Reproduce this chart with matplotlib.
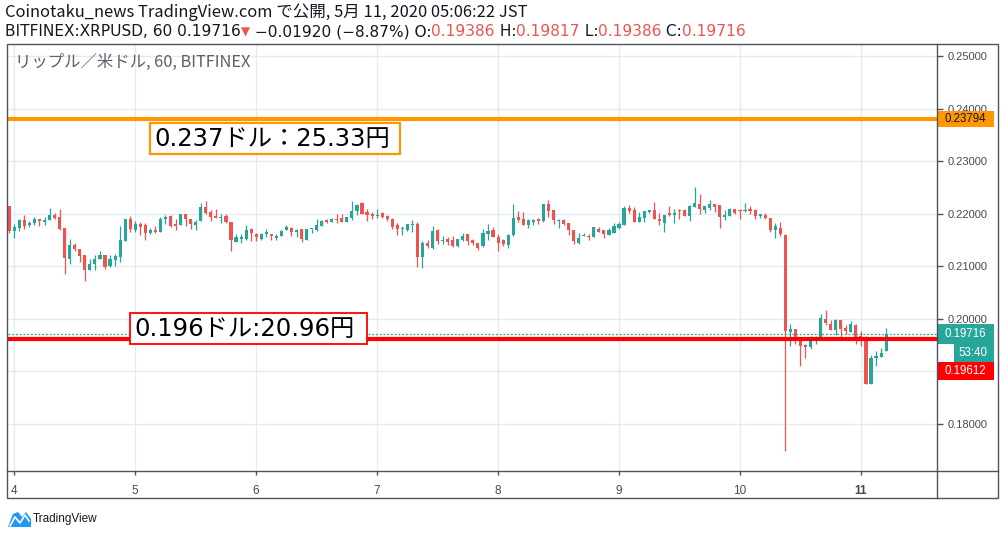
import numpy as np
import matplotlib
matplotlib.use("Agg")
from matplotlib import pyplot as plt
from matplotlib.patches import Rectangle, Polygon

# hourly candles (JST), 3 May 23:00 .. 11 May 05:00
opens = [0.22139, 0.21671, 0.21734, 0.21873, 0.21778, 0.21823, 0.21892, 0.21842, 0.21880, 0.21968,
         0.21930, 0.21722, 0.21146, 0.21399, 0.21335, 0.21209, 0.20930, 0.21051, 0.21146, 0.21222,
         0.21000, 0.21114, 0.21177, 0.21481, 0.21905, 0.21697, 0.21810, 0.21778, 0.21633, 0.21684,
         0.21652, 0.21892, 0.21956, 0.21797, 0.21778, 0.21987, 0.21905, 0.21778, 0.21854, 0.22120,
         0.22032, 0.21949, 0.21918, 0.21956, 0.21842, 0.21462, 0.21513, 0.21525, 0.21703, 0.21608,
         0.21513, 0.21608, 0.21620, 0.21538, 0.21576, 0.21690, 0.21722, 0.21652, 0.21715, 0.21506,
         0.21703, 0.21690, 0.21766, 0.21886, 0.21842, 0.21892, 0.21918, 0.21842, 0.21918, 0.22044,
         0.22196, 0.22032, 0.21987, 0.21956, 0.22013, 0.21956, 0.21905, 0.21778, 0.21715, 0.21684,
         0.21791, 0.21797, 0.21177, 0.21443, 0.21354, 0.21684, 0.21487, 0.21513, 0.21494, 0.21386,
         0.21494, 0.21608, 0.21494, 0.21443, 0.21380, 0.21620, 0.21696, 0.21557, 0.21494, 0.21411,
         0.21601, 0.21930, 0.21892, 0.21778, 0.21842, 0.21892, 0.21854, 0.22190, 0.22063, 0.21861,
         0.21873, 0.21823, 0.21684, 0.21449, 0.21570, 0.21576, 0.21557, 0.21715, 0.21684, 0.21600,
         0.21640, 0.21728, 0.21778, 0.22108, 0.22063, 0.21835, 0.21924, 0.22025, 0.22076, 0.21905,
         0.21829, 0.22006, 0.21968, 0.22063, 0.22076, 0.21949, 0.22127, 0.22190, 0.22076, 0.22108,
         0.22190, 0.22158, 0.21937, 0.21956, 0.22082, 0.22063, 0.22050, 0.22095, 0.22063, 0.21956,
         0.21981, 0.21918, 0.21684, 0.21728, 0.21600, 0.19749, 0.19800, 0.19590, 0.19495, 0.19463,
         0.19571, 0.19641, 0.20003, 0.19908, 0.19781, 0.19971, 0.19825, 0.19749, 0.19876, 0.19667,
         0.19641, 0.18752, 0.19254, 0.19273, 0.19386]
highs = [0.22140, 0.21810, 0.21905, 0.21968, 0.21854, 0.21930, 0.21892, 0.21930, 0.22114, 0.22013,
         0.22082, 0.21722, 0.21513, 0.21443, 0.21335, 0.21209, 0.21146, 0.21222, 0.21285, 0.21222,
         0.21222, 0.21240, 0.21760, 0.21905, 0.21950, 0.21860, 0.21842, 0.21823, 0.21734, 0.21766,
         0.21930, 0.21981, 0.21981, 0.21905, 0.21987, 0.21987, 0.21905, 0.21873, 0.22203, 0.22234,
         0.22063, 0.22082, 0.21987, 0.21987, 0.21842, 0.21608, 0.21608, 0.21778, 0.21728, 0.21633,
         0.21639, 0.21715, 0.21620, 0.21608, 0.21684, 0.21778, 0.21740, 0.21715, 0.21715, 0.21709,
         0.21712, 0.21900, 0.21873, 0.21905, 0.21918, 0.21987, 0.21987, 0.21930, 0.22234, 0.22190,
         0.22222, 0.22082, 0.22032, 0.22082, 0.22032, 0.21981, 0.21918, 0.21823, 0.21766, 0.21810,
         0.21880, 0.21842, 0.21475, 0.21494, 0.21760, 0.21703, 0.21570, 0.21563, 0.21570, 0.21513,
         0.21639, 0.21608, 0.21513, 0.21443, 0.21715, 0.21810, 0.21747, 0.21608, 0.21525, 0.21620,
         0.22177, 0.22050, 0.22025, 0.21892, 0.21892, 0.21924, 0.22190, 0.22253, 0.22063, 0.21892,
         0.21892, 0.21823, 0.21696, 0.21633, 0.21633, 0.21620, 0.21747, 0.21747, 0.21696, 0.21728,
         0.21830, 0.21842, 0.22139, 0.22171, 0.22127, 0.22025, 0.22044, 0.22076, 0.22215, 0.22013,
         0.21981, 0.22139, 0.22095, 0.22082, 0.22095, 0.22171, 0.22506, 0.22367, 0.22139, 0.22266,
         0.22190, 0.22158, 0.22063, 0.22108, 0.22095, 0.22095, 0.22209, 0.22139, 0.22095, 0.21987,
         0.22019, 0.21918, 0.21823, 0.21842, 0.21620, 0.19895, 0.19800, 0.19590, 0.19527, 0.19667,
         0.19667, 0.20086, 0.20162, 0.19984, 0.19990, 0.19971, 0.19889, 0.19952, 0.19908, 0.19762,
         0.19667, 0.19305, 0.19387, 0.19444, 0.19817]
lows = [0.21633, 0.21538, 0.21671, 0.21715, 0.21747, 0.21778, 0.21766, 0.21791, 0.21880, 0.21905,
        0.21690, 0.20848, 0.21038, 0.21297, 0.21082, 0.20715, 0.20930, 0.20930, 0.21146, 0.20956,
        0.20987, 0.21000, 0.21082, 0.21481, 0.21652, 0.21652, 0.21589, 0.21506, 0.21620, 0.21633,
        0.21652, 0.21804, 0.21740, 0.21684, 0.21778, 0.21766, 0.21703, 0.21684, 0.21854, 0.22000,
        0.21854, 0.21918, 0.21829, 0.21829, 0.21285, 0.21462, 0.21443, 0.21506, 0.21481, 0.21481,
        0.21494, 0.21557, 0.21506, 0.21506, 0.21576, 0.21690, 0.21570, 0.21557, 0.21462, 0.21494,
        0.21633, 0.21665, 0.21766, 0.21823, 0.21842, 0.21823, 0.21842, 0.21842, 0.21880, 0.21981,
        0.21987, 0.21854, 0.21892, 0.21918, 0.21918, 0.21854, 0.21703, 0.21589, 0.21589, 0.21665,
        0.21652, 0.20987, 0.20968, 0.21354, 0.21323, 0.21418, 0.21418, 0.21399, 0.21367, 0.21367,
        0.21481, 0.21411, 0.21411, 0.21304, 0.21367, 0.21494, 0.21557, 0.21291, 0.21380, 0.21348,
        0.21576, 0.21842, 0.21778, 0.21728, 0.21778, 0.21810, 0.21842, 0.21937, 0.21797, 0.21728,
        0.21778, 0.21589, 0.21418, 0.21430, 0.21570, 0.21494, 0.21557, 0.21652, 0.21544, 0.21589,
        0.21640, 0.21703, 0.21778, 0.22019, 0.21835, 0.21835, 0.21835, 0.22013, 0.21892, 0.21778,
        0.21652, 0.21956, 0.21829, 0.21892, 0.21949, 0.21861, 0.22127, 0.22000, 0.22013, 0.22076,
        0.22032, 0.21728, 0.21873, 0.21956, 0.22000, 0.21892, 0.22032, 0.22000, 0.21892, 0.21918,
        0.21892, 0.21652, 0.21544, 0.21576, 0.17483, 0.19483, 0.19514, 0.19102, 0.19254, 0.19419,
        0.19514, 0.19641, 0.19876, 0.19781, 0.19686, 0.19641, 0.19717, 0.19749, 0.19514, 0.19483,
        0.18752, 0.18752, 0.19095, 0.19273, 0.19386]
closes = [0.21671, 0.21741, 0.21873, 0.21766, 0.21829, 0.21905, 0.21854, 0.21873, 0.21968, 0.21918,
          0.21709, 0.21158, 0.21399, 0.21323, 0.21190, 0.20930, 0.21051, 0.21146, 0.21222, 0.20987,
          0.21133, 0.21190, 0.21494, 0.21892, 0.21703, 0.21810, 0.21747, 0.21639, 0.21684, 0.21652,
          0.21905, 0.21943, 0.21760, 0.21760, 0.21987, 0.21892, 0.21797, 0.21842, 0.22120, 0.22013,
          0.21937, 0.21918, 0.21943, 0.21842, 0.21506, 0.21557, 0.21557, 0.21684, 0.21633, 0.21557,
          0.21620, 0.21652, 0.21570, 0.21570, 0.21671, 0.21740, 0.21652, 0.21690, 0.21513, 0.21703,
          0.21710, 0.21785, 0.21854, 0.21842, 0.21899, 0.21880, 0.21842, 0.21930, 0.22044, 0.22171,
          0.21987, 0.21968, 0.21949, 0.21968, 0.21937, 0.21892, 0.21747, 0.21703, 0.21728, 0.21797,
          0.21804, 0.21177, 0.21443, 0.21380, 0.21665, 0.21481, 0.21500, 0.21462, 0.21386, 0.21513,
          0.21576, 0.21475, 0.21443, 0.21348, 0.21639, 0.21670, 0.21557, 0.21443, 0.21418, 0.21589,
          0.21924, 0.21873, 0.21778, 0.21873, 0.21873, 0.21854, 0.22190, 0.22051, 0.21886, 0.21873,
          0.21810, 0.21684, 0.21481, 0.21544, 0.21601, 0.21557, 0.21747, 0.21652, 0.21620, 0.21684,
          0.21760, 0.21797, 0.22108, 0.22044, 0.21835, 0.21930, 0.22044, 0.22076, 0.21892, 0.21854,
          0.21981, 0.21968, 0.22019, 0.22050, 0.21949, 0.22139, 0.22209, 0.22082, 0.22139, 0.22177,
          0.22127, 0.21937, 0.21968, 0.22095, 0.22013, 0.22050, 0.22063, 0.22044, 0.21956, 0.21987,
          0.21918, 0.21684, 0.21760, 0.21608, 0.19768, 0.19800, 0.19641, 0.19483, 0.19463, 0.19571,
          0.19584, 0.20022, 0.19920, 0.19781, 0.19971, 0.19800, 0.19762, 0.19895, 0.19641, 0.19641,
          0.18752, 0.19254, 0.19292, 0.19349, 0.19716]

day_labels = ["4", "5", "6", "7", "8", "9", "10", "11"]
price_ticks = [0.18, 0.19, 0.20, 0.21, 0.22, 0.23, 0.24, 0.25]
hidden_tick = 0.19   # its label sits under the price tags

last_price = 0.19716
resist_price = 0.23794
support_price = 0.19612
countdown = "53:40"

header_1 = "Coinotaku_news TradingView.com で公開, 5月 11, 2020 05:06:22 JST"
header_2 = [("BITFINEX:XRPUSD, 60 0.19716", "k"), ("▼", "r"), (" −0.01920 (−8.87%) O:", "k"),
            ("0.19386", "r"), (" H:", "k"), ("0.19817", "r"), (" L:", "k"), ("0.19386", "r"),
            (" C:", "k"), ("0.19716", "r")]
chart_title = "リップル／米ドル, 60, BITFINEX"
resist_note = "0.237ドル：25.33円"
support_note = "0.196ドル:20.96円"

UP = "#26a69a"
DOWN = "#ef5350"
TXT = "#131722"
GRID = "#e3ebf2"
FRAME = "#50535e"
JP = ["Noto Sans CJK JP", "DejaVu Sans"]
WIDE = ["DejaVu Sans", "Noto Sans CJK JP"]

W, H = 1002, 537
fig = plt.figure(figsize=(W / 100, H / 100), dpi=100)
fig.patch.set_facecolor("white")

# main price pane, pixel box (8,44)-(937,471)
ax = fig.add_axes([8 / W, (H - 471) / H, (937 - 8) / W, (471 - 44) / H])
ax.set_xlim(-1.25, 183.1)
ax.set_ylim(0.17106, 0.25228)

o = np.array(opens)
c = np.array(closes)
hi = np.array(highs)
lo = np.array(lows)
x = np.arange(len(o)) - 1          # hours after 4 May 00:00
colors = np.where(c >= o, UP, DOWN)

ax.vlines(x, lo, hi, colors=colors, lw=0.9, zorder=3)
body = np.maximum(np.abs(c - o), 0.00019)
ax.bar(x, body, bottom=np.minimum(o, c), width=0.62, color=colors, lw=0, zorder=4)

for p in price_ticks:
    ax.axhline(p, color=GRID, lw=1, zorder=1)
for d in range(len(day_labels)):
    ax.axvline(d * 24, color=GRID, lw=1, zorder=1)

ax.axhline(last_price, color=UP, lw=0.9, ls=(0, (1.5, 1.5)), zorder=5)
ax.axhline(resist_price, color="#ff9800", lw=3, zorder=6)
ax.axhline(support_price, color="#ff0000", lw=3, zorder=6)

ax.yaxis.tick_right()
ax.set_yticks(price_ticks, ["" if p == hidden_tick else "%.5f" % p for p in price_ticks])
ax.set_xticks([d * 24 for d in range(len(day_labels))], day_labels)
ax.tick_params(axis="y", length=4, width=1, color=FRAME, pad=4, labelsize=8,
               labelcolor="#4a4a4a", direction="out")
ax.tick_params(axis="x", length=3, width=1, color=FRAME, pad=7, labelsize=8.5,
               labelcolor="#4a4a4a", direction="out")
for t in ax.get_yticklabels() + ax.get_xticklabels():
    t.set_fontfamily("Liberation Sans")
ax.get_xticklabels()[-1].set_fontweight("bold")
for s in ax.spines.values():
    s.set_visible(False)

# overlay in pixel coordinates for frame, tags and texts
ov = fig.add_axes([0, 0, 1, 1], zorder=10)
ov.set_xlim(0, W)
ov.set_ylim(H, 0)
ov.axis("off")
ov.patch.set_alpha(0)


def price_px(p):
    return H - ax.transData.transform((0, p))[1]


ov.add_patch(Rectangle((7, 44), 991, 454, fill=False, ec=FRAME, lw=1))
ov.plot([937, 937], [44, 498], color=FRAME, lw=1)
ov.plot([7, 998], [471, 471], color=FRAME, lw=1)


def tag(yc, text, fc, tc, x0=938, x1=994, h=18, tx=945):
    ov.add_patch(Rectangle((x0, yc - h / 2), x1 - x0, h, fc=fc, ec="none"))
    ov.text(tx, yc, text, color=tc, fontsize=8.3, va="center", ha="left",
            family="Liberation Sans")


tag(price_px(resist_price), "%.5f" % resist_price, "#ff9800", TXT, h=16)
y_last = price_px(last_price)
tag(y_last, "%.5f" % last_price, UP, "white", h=20)
tag(y_last + 19, countdown, UP, "white", x0=954, h=18, tx=958)
tag(y_last + 37, "%.5f" % support_price, "#ff0000", "white", h=18)

# headers
ov.text(5, 12, header_1, color=TXT, fontsize=11.9, va="center", family=JP)
renderer = fig.canvas.get_renderer()
xp = 5
for s, col in header_2:
    color = TXT if col == "k" else "#ef5350"
    size = 8.5 if s == "▼" else 11.1
    t = ov.text(xp, 32, s, color=color, fontsize=size, va="center", family=WIDE)
    xp += t.get_window_extent(renderer).width

ov.text(15, 62, chart_title, color="#5d606b", fontsize=11.8, va="center", family=JP)

# annotation boxes
ov.add_patch(Rectangle((150, 123), 250, 31, fc="white", ec="#ff9800", lw=1.6))
ov.text(154, 139, resist_note, color="black", fontsize=17.5, va="center", family=WIDE)
ov.add_patch(Rectangle((130, 313), 237, 31, fc="white", ec="#ff0000", lw=1.3))
ov.text(134, 329, support_note, color="black", fontsize=17.5, va="center", family=WIDE)

# TradingView logo
ov.add_patch(Polygon([(8, 527), (13, 514), (18, 512), (22, 517), (26, 512), (31, 519), (31, 527)],
                     closed=True, fc="#2196f3", ec="none"))
ov.plot([10, 15, 20, 25, 29], [526, 517, 523, 515, 521], color="white", lw=1.2)
ov.text(33, 519, "TradingView", color=TXT, fontsize=8.5, va="center", family="Liberation Sans")

fig.savefig("out.png", dpi=100, facecolor="white")
